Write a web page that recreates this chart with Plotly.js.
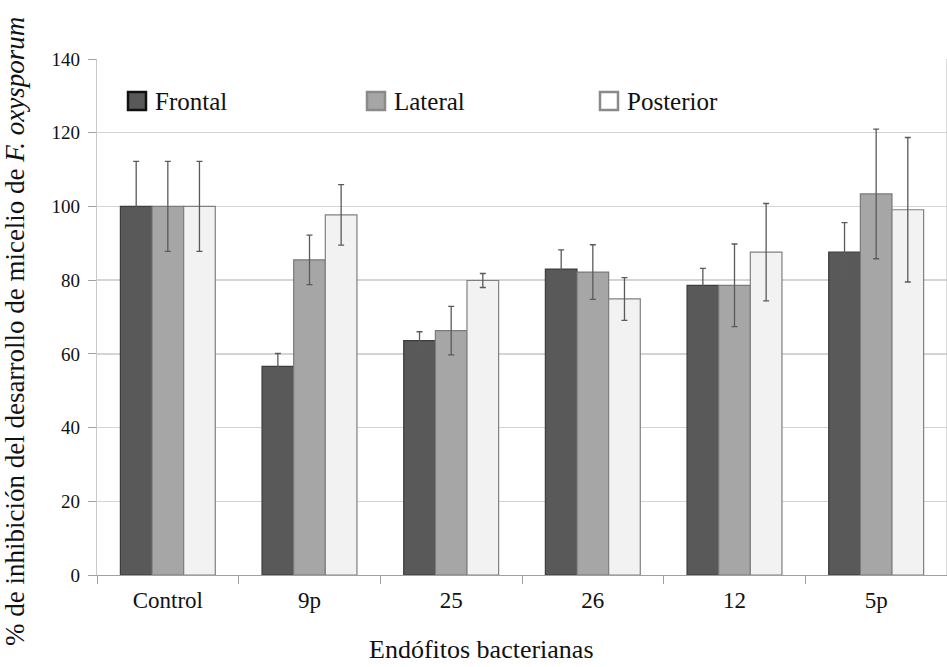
<!DOCTYPE html>
<html>
<head>
<meta charset="utf-8">
<script src="https://cdn.plot.ly/plotly-3.0.1.min.js"></script>
<style>html,body{margin:0;padding:0;background:#fff;}#chart{width:947px;height:667px;}</style>
</head>
<body>
<div id="chart"></div>
<script>
const categories = ["Control", "9p", "25", "26", "12", "5p"];
const frontal = [100, 56.6, 63.6, 83, 78.6, 87.6];
const frontalErr = [12.2, 3.5, 2.4, 5.2, 4.6, 8];
const lateral = [100, 85.5, 66.3, 82.2, 78.6, 103.4];
const lateralErr = [12.2, 6.7, 6.6, 7.4, 11.2, 17.6];
const posterior = [100, 97.7, 79.9, 74.9, 87.6, 99.1];
const posteriorErr = [12.2, 8.2, 1.9, 5.8, 13.2, 19.6];
const seriesNames = ["Frontal", "Lateral", "Posterior"];
const yTicks = [0, 20, 40, 60, 80, 100, 120, 140];

const serif = "Liberation Serif";
const fills = ["#595959", "#a6a6a6", "#f2f2f2"];
const lines = ["#3c3c3c", "#7a7a7a", "#808080"];
function mk(i, y, err) {
  return {
    type: "bar", name: seriesNames[i], x: categories, y: y,
    marker: {color: fills[i], line: {color: lines[i], width: 1.2}},
    error_y: {type: "data", array: err, visible: true, color: "#5a5a5a", thickness: 1.3, width: 3}
  };
}
const data = [mk(0, frontal, frontalErr), mk(1, lateral, lateralErr), mk(2, posterior, posteriorErr)];

// custom legend (pixel positions converted to paper coords)
const plotL = 97, plotW = 850, plotT = 59, plotH = 516;
const px = v => (v - plotL) / plotW;
const py = v => 1 - (v - plotT) / plotH;
const legX = [128, 367, 600];
const legBorder = ["#111111", "#8a8a8a", "#8a8a8a"];
const legFill = ["#595959", "#a6a6a6", "#ffffff"];
const shapes = [
  {type: "line", xref: "paper", yref: "paper", x0: 1, x1: 1, y0: 0, y1: 1, line: {color: "#c8c8c8", width: 1.3}}
];
const annotations = [];
seriesNames.forEach((n, i) => {
  shapes.push({type: "rect", xref: "paper", yref: "paper", x0: px(legX[i]), x1: px(legX[i] + 18),
    y0: py(110), y1: py(92), fillcolor: legFill[i], line: {color: legBorder[i], width: 2.5}});
  annotations.push({text: n, xref: "paper", yref: "paper", x: px(legX[i] + 25), y: py(101),
    xanchor: "left", yanchor: "middle", showarrow: false, font: {family: serif, size: 25, color: "#111"}});
});
annotations.push(
  {text: "Endófitos bacterianas", xref: "paper", yref: "paper", x: px(481), y: 0, xanchor: "center",
   yanchor: "middle", showarrow: false, yshift: -74, font: {family: serif, size: 26, color: "#111"}},
  {text: "% de inhibición del desarrollo de micelio de <i>F. oxysporum</i>", xref: "paper", yref: "paper",
   x: 0, y: 0.5, xanchor: "center", yanchor: "middle", textangle: -90, showarrow: false,
   xshift: -82, yshift: -15, font: {family: serif, size: 27, color: "#111"}}
);

const layout = {
  width: 947, height: 667,
  margin: {l: 97, r: 0, t: 59, b: 92},
  paper_bgcolor: "#fff", plot_bgcolor: "#fff",
  barmode: "group", bargap: 0.33, bargroupgap: 0,
  font: {family: serif, color: "#111", size: 20},
  showlegend: false,
  xaxis: {type: "category", showline: true, linecolor: "#a0a0a0", linewidth: 1.3,
    ticks: "outside", tickson: "boundaries", ticklen: 8, tickcolor: "#a0a0a0",
    tickfont: {family: serif, size: 23, color: "#111"}, showgrid: false, zeroline: false,
    ticklabelstandoff: 4},
  yaxis: {range: [0, 140], tickvals: yTicks, showline: true, linecolor: "#c8c8c8", linewidth: 1.3,
    ticks: "outside", ticklen: 8, tickcolor: "#a0a0a0", gridcolor: "#d4d4d4", gridwidth: 1.3,
    zeroline: false, tickfont: {family: serif, size: 19, color: "#111"}, ticklabelstandoff: 4},
  shapes: shapes,
  annotations: annotations
};
Plotly.newPlot("chart", data, layout, {displayModeBar: false, staticPlot: true});
</script>
</body>
</html>
